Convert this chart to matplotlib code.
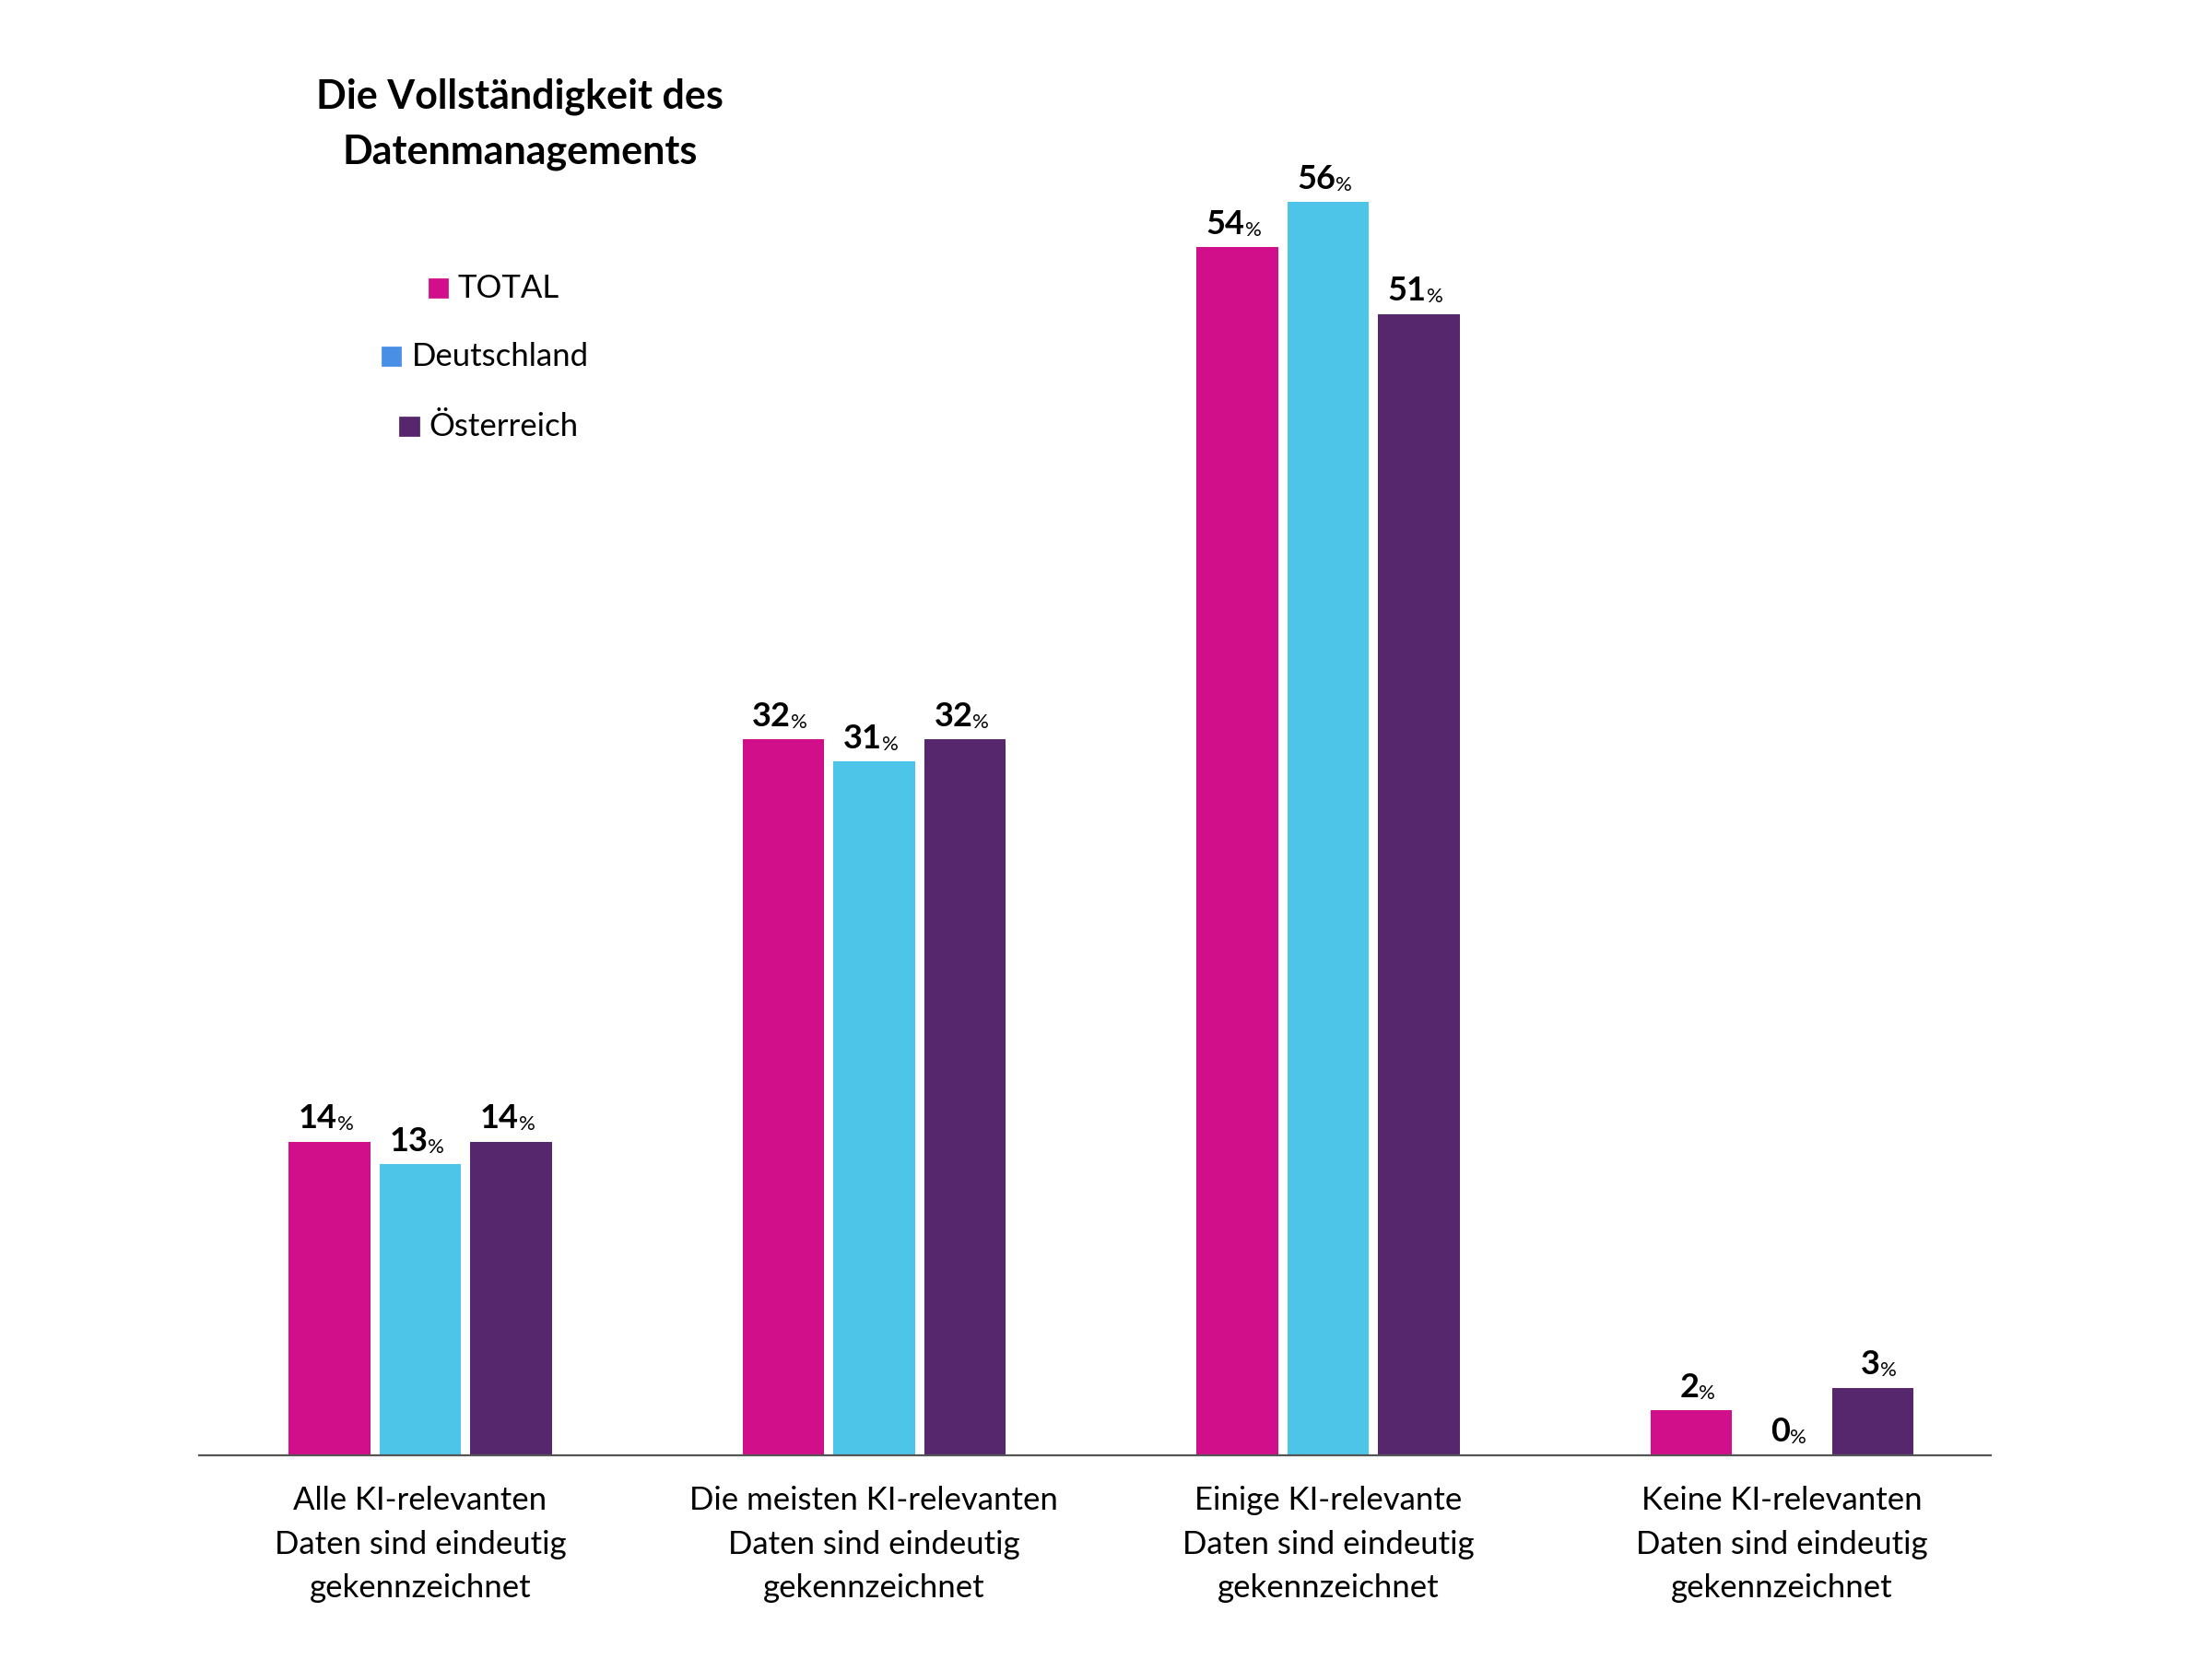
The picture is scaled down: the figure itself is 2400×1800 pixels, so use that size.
import numpy as np
import matplotlib
matplotlib.use("Agg")
from matplotlib import pyplot as plt

plt.rcParams['font.family'] = ['Lato', 'DejaVu Sans']

categories = ["Alle KI-relevanten\nDaten sind eindeutig\ngekennzeichnet",
              "Die meisten KI-relevanten\nDaten sind eindeutig\ngekennzeichnet",
              "Einige KI-relevante\nDaten sind eindeutig\ngekennzeichnet",
              "Keine KI-relevanten\nDaten sind eindeutig\ngekennzeichnet"]
series_names = ["TOTAL", "Deutschland", "Österreich"]
total = [14, 32, 54, 2]
deutschland = [13, 31, 56, 0]
oesterreich = [14, 32, 51, 3]
bar_colors = ["#D10F8A", "#4DC5E8", "#57276E"]
legend_colors = ["#D10F8A", "#4A8FE6", "#57276E"]

fig = plt.figure(figsize=(12, 9), dpi=200)
ax = fig.add_axes([0.09, 0.123, 0.81, 0.809])

x = np.arange(len(categories))
step = 0.2
width = 0.18
for i, (vals, col) in enumerate(zip([total, deutschland, oesterreich], bar_colors)):
    pos = x + (i - 1) * step
    ax.bar(pos, vals, width=width, color=col)
    for px, v in zip(pos, vals):
        ax.annotate(str(v), (px, v), xytext=(3, 3), textcoords="offset points",
                    ha="right", va="bottom", fontsize=13, fontweight="bold")
        ax.annotate("%", (px, v), xytext=(3, 3), textcoords="offset points",
                    ha="left", va="bottom", fontsize=8)

ax.set_xlim(-0.487, 3.46)
ax.set_ylim(0, 60)
ax.set_yticks([])
ax.set_xticks(x)
ax.set_xticklabels(categories, fontsize=12.5, linespacing=1.6)
ax.tick_params(axis="x", length=0, pad=12)
for s in ["top", "right", "left"]:
    ax.spines[s].set_visible(False)
ax.spines["bottom"].set_color("#555555")

fig.text(0.235, 0.925, "Die Vollständigkeit des\nDatenmanagements", ha="center", va="center",
         fontsize=15.5, fontweight="bold", linespacing=1.6)

legend_y = [0.826, 0.785, 0.743]
legend_x = [0.198, 0.177, 0.185]
for name, col, ly, lx in zip(series_names, legend_colors, legend_y, legend_x):
    fig.patches.append(plt.Rectangle((lx - 0.004, ly - 0.005), 0.008, 0.0105,
                                     transform=fig.transFigure, color=col))
    fig.text(lx + 0.009, ly, name, ha="left", va="center", fontsize=12.5)

fig.savefig("out.png")
